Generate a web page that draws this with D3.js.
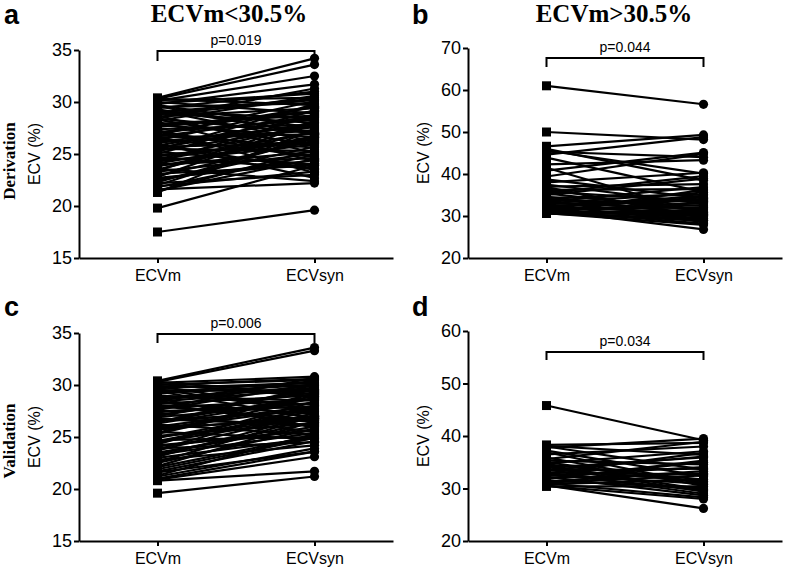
<!DOCTYPE html>
<html><head><meta charset="utf-8">
<script src="https://cdn.jsdelivr.net/npm/d3@7"></script>
<style>
html,body{margin:0;padding:0;background:#fff;}
svg{display:block;}
</style>
</head><body>
<svg id="chart" width="787" height="571"></svg>
<script>
// ---------- DATA ----------
const categories = ["ECVm", "ECVsyn"];
const titles = ["ECVm<30.5%", "ECVm>30.5%"];
const rowLabels = ["Derivation", "Validation"];
const panelLetters = ["a", "b", "c", "d"];
const pValues = ["p=0.019", "p=0.044", "p=0.006", "p=0.034"];
const yLabel = "ECV (%)";

const ticksA = [15, 20, 25, 30, 35];
const ticksB = [20, 30, 40, 50, 60, 70];
const ticksC = [15, 20, 25, 30, 35];
const ticksD = [20, 30, 40, 50, 60];

// Panel a: derivation, ECVm<30.5%
const aECVm  = [30.4, 30.3, 30.2, 30.1, 30.0, 29.8, 29.7, 29.5, 29.4, 29.2, 29.0, 28.9, 28.7, 28.6, 28.4, 28.2, 28.1, 27.9, 27.8, 27.6, 27.4, 27.3, 27.1, 26.9, 26.8, 26.6, 26.5, 26.3, 26.1, 26.0, 25.8, 25.7, 25.5, 25.3, 25.2, 25.0, 24.8, 24.7, 24.5, 24.3, 24.2, 24.0, 23.8, 23.6, 23.5, 23.3, 23.1, 22.9, 22.8, 22.6, 22.4, 22.2, 22.0, 21.8, 21.6, 21.4, 21.3, 19.8, 17.5,
                30.3, 29.9, 29.6, 29.1, 28.8, 28.3, 27.7, 27.2, 26.7, 26.2, 25.9, 25.4, 24.9, 24.4, 23.9, 23.4, 22.7, 22.3, 21.9, 21.5, 28.5, 27.0, 25.6, 24.1, 29.3];
const aECVsyn= [34.2, 33.6, 30.4, 32.5, 28.9, 31.7, 27.5, 29.9, 31.0, 26.2, 30.3, 28.0, 25.1, 29.4, 27.0, 30.6, 24.3, 28.7, 26.6, 29.1, 27.8, 23.2, 28.3, 25.6, 30.1, 26.9, 24.8, 29.6, 27.3, 22.7, 28.5, 26.0, 25.3, 27.6, 24.0, 29.2, 26.4, 23.6, 27.9, 25.9, 28.8, 24.6, 26.7, 22.4, 27.2, 25.0, 23.9, 26.3, 28.1, 24.4, 25.7, 23.0, 26.8, 24.9, 22.2, 25.4, 27.4, 23.9, 19.6,
                29.7, 30.8, 26.9, 28.4, 30.2, 25.8, 29.0, 24.7, 28.6, 27.7, 23.5, 29.8, 26.1, 27.1, 25.2, 28.2, 24.1, 26.5, 23.3, 24.5, 31.3, 29.5, 28.0, 26.6, 27.0];

// Panel b: derivation, ECVm>30.5%
const bECVm  = [61.0, 50.0, 46.6, 46.0, 45.3, 44.6, 43.9, 42.3, 41.5, 39.4, 38.7, 38.0, 37.5, 37.0, 36.6, 36.2, 35.8, 35.4, 35.0, 34.6, 34.3, 34.0, 33.7, 33.4, 33.1, 32.8, 32.5, 32.2, 32.0, 31.8, 31.6, 31.4, 31.2, 31.0, 30.8, 30.7, 30.6, 30.6, 30.7, 30.9, 31.5, 32.3,
                45.6, 40.8, 36.9, 35.5, 34.1, 33.0, 32.0, 31.3, 30.9];
const bECVsyn= [56.6, 48.2, 49.3, 38.5, 44.0, 48.8, 35.7, 43.3, 30.6, 44.8, 34.2, 40.3, 32.9, 37.6, 29.8, 36.4, 33.5, 31.2, 38.9, 30.2, 35.1, 32.4, 29.0, 36.9, 31.7, 33.9, 28.6, 34.8, 30.9, 32.0, 29.5, 26.8, 33.2, 31.0, 30.4, 29.3, 28.9, 31.5, 27.9, 30.0, 32.6, 33.7,
                40.1, 45.1, 29.4, 39.5, 30.5, 35.6, 34.4, 28.2, 36.2];

// Panel c: validation, ECVm<30.5%
const cECVm  = [30.4, 30.3, 30.2, 30.1, 30.0, 29.9, 29.7, 29.5, 29.4, 29.2, 29.0, 28.8, 28.7, 28.5, 28.3, 28.2, 28.0, 27.8, 27.6, 27.5, 27.3, 27.1, 26.9, 26.8, 26.6, 26.4, 26.2, 26.0, 25.9, 25.7, 25.5, 25.3, 25.1, 24.9, 24.7, 24.5, 24.3, 24.1, 23.9, 23.7, 23.5, 23.3, 23.1, 22.8, 22.5, 22.2, 21.9, 21.6, 21.3, 21.0, 20.8, 19.6,
                30.3, 30.0, 29.6, 29.3, 28.9, 28.6, 28.1, 27.7, 27.4, 27.0, 26.7, 26.3, 25.8, 25.4, 25.0, 24.6, 24.2, 23.8, 23.4, 23.0, 22.6, 22.1, 21.7, 21.2, 20.9, 29.8, 28.4, 26.5];
const cECVsyn= [33.6, 33.3, 30.8, 28.9, 30.5, 27.6, 30.2, 29.4, 26.8, 30.0, 28.1, 29.7, 25.9, 30.4, 27.2, 29.0, 26.4, 28.6, 30.1, 27.9, 25.5, 29.3, 28.3, 26.1, 27.5, 29.8, 25.2, 28.0, 26.7, 27.0, 24.8, 28.8, 26.3, 27.7, 25.0, 26.9, 28.4, 25.7, 24.5, 27.3, 26.0, 25.4, 27.1, 24.2, 25.8, 26.5, 24.9, 23.6, 25.3, 23.6, 21.7, 21.2,
                29.1, 30.6, 27.4, 30.3, 28.5, 29.9, 26.6, 30.7, 28.2, 29.5, 26.2, 28.7, 27.8, 29.2, 26.8, 27.5, 25.6, 28.0, 26.4, 24.9, 27.0, 25.1, 24.6, 23.9, 23.1, 30.0, 29.6, 28.9];

// Panel d: validation, ECVm>30.5%
const dECVm  = [45.8, 38.3, 38.1, 37.8, 37.2, 36.5, 35.9, 35.3, 34.8, 34.4, 34.0, 33.7, 33.4, 33.1, 32.9, 32.6, 32.4, 32.2, 32.0, 31.8, 31.5, 31.3, 31.0, 30.8, 30.6, 30.4, 34.1, 33.0, 35.0,
                38.0, 36.9, 35.6, 34.6, 33.5, 32.8, 31.9, 31.1, 30.5];
const dECVsyn= [39.2, 38.7, 36.4, 39.5, 32.3, 38.0, 30.5, 34.6, 37.1, 29.8, 35.9, 31.4, 33.8, 29.0, 36.8, 30.9, 34.1, 28.7, 32.9, 35.3, 30.1, 33.3, 28.3, 31.8, 26.2, 30.4, 29.4, 32.7, 31.1,
                33.6, 30.8, 38.9, 31.7, 36.1, 29.6, 35.0, 32.5, 28.0];

// ---------- LAYOUT ----------
const svg = d3.select("#chart");
const SANS = "'Liberation Sans', Arial, Helvetica, sans-serif";
const SERIF = "'Liberation Serif', 'Times New Roman', serif";

const panels = [
  {m: aECVm, s: aECVsyn, ticks: ticksA, x0: 79,  yb: 258, yt: 50,  p: pValues[0], by: 51,  bd: 10, letter: panelLetters[0], lx: 4,   ly: 24},
  {m: bECVm, s: bECVsyn, ticks: ticksB, x0: 468, yb: 258, yt: 48,  p: pValues[1], by: 58,  bd: 9,  letter: panelLetters[1], lx: 412, ly: 24},
  {m: cECVm, s: cECVsyn, ticks: ticksC, x0: 79,  yb: 541, yt: 333, p: pValues[2], by: 334, bd: 9,  letter: panelLetters[2], lx: 4,   ly: 316},
  {m: dECVm, s: dECVsyn, ticks: ticksD, x0: 468, yb: 541, yt: 331, p: pValues[3], by: 352, bd: 8,  letter: panelLetters[3], lx: 412, ly: 316}
];
const axisW = 314;

panels.forEach((P, i) => {
  const g = svg.append("g");
  const y = d3.scaleLinear().domain(d3.extent(P.ticks)).range([P.yb, P.yt]);
  const x = d3.scalePoint().domain(categories).range([P.x0, P.x0 + axisW]).padding(0.5);

  // y axis
  const ya = g.append("g").attr("transform", `translate(${P.x0},0)`)
    .call(d3.axisLeft(y).tickValues(P.ticks).tickSize(5).tickSizeOuter(0).tickPadding(2).tickFormat(d3.format("d")));
  ya.select(".domain").attr("stroke", "#000").attr("stroke-width", 2);
  ya.selectAll(".tick line").attr("stroke", "#000").attr("stroke-width", 2);
  ya.selectAll(".tick text").attr("font-family", SANS).attr("font-size", 18).attr("fill", "#000");

  // x axis
  const xa = g.append("g").attr("transform", `translate(0,${P.yb})`)
    .call(d3.axisBottom(x).tickSize(5).tickSizeOuter(0).tickPadding(7));
  xa.select(".domain").attr("stroke", "#000").attr("stroke-width", 2);
  xa.selectAll(".tick line").attr("stroke", "#000").attr("stroke-width", 2);
  xa.selectAll(".tick text").attr("font-family", SANS).attr("font-size", 16).attr("fill", "#000");

  // paired lines
  const pairs = P.m.map((v, k) => [v, P.s[k]]);
  g.append("g").selectAll("line").data(pairs).join("line")
    .attr("x1", x(categories[0])).attr("x2", x(categories[1]))
    .attr("y1", d => y(d[0])).attr("y2", d => y(d[1]))
    .attr("stroke", "#000").attr("stroke-width", 2.2);

  // markers
  g.append("g").selectAll("rect").data(P.m).join("rect")
    .attr("x", x(categories[0]) - 4.5).attr("y", d => y(d) - 4.5)
    .attr("width", 9).attr("height", 9).attr("fill", "#000");
  g.append("g").selectAll("circle").data(P.s).join("circle")
    .attr("cx", x(categories[1])).attr("cy", d => y(d)).attr("r", 4.6).attr("fill", "#000");

  // significance bracket
  const bx1 = x(categories[0]), bx2 = x(categories[1]);
  g.append("path")
    .attr("d", `M${bx1},${P.by + P.bd}V${P.by}H${bx2}V${P.by + P.bd}`)
    .attr("fill", "none").attr("stroke", "#000").attr("stroke-width", 2);
  g.append("text").attr("x", (bx1 + bx2) / 2).attr("y", P.by - 6)
    .attr("text-anchor", "middle").attr("font-family", SANS).attr("font-size", 14)
    .text(P.p);

  // y label
  const yc = (P.yb + P.yt) / 2;
  g.append("text")
    .attr("transform", `translate(${P.x0 - 39},${yc}) rotate(-90)`)
    .attr("text-anchor", "middle").attr("font-family", SANS).attr("font-size", 16)
    .text(yLabel);

  // panel letter
  g.append("text").attr("x", P.lx).attr("y", P.ly)
    .attr("font-family", SANS).attr("font-weight", "bold").attr("font-size", 27)
    .text(P.letter);
});

// column titles
[[229, titles[0]], [614, titles[1]]].forEach(([cx, t]) => {
  svg.append("text").attr("x", cx).attr("y", 22).attr("text-anchor", "middle")
    .attr("font-family", SERIF).attr("font-weight", "bold").attr("font-size", 25).text(t);
});

// row labels
[[161, rowLabels[0]], [441, rowLabels[1]]].forEach(([cy, t]) => {
  svg.append("text").attr("transform", `translate(15,${cy}) rotate(-90)`)
    .attr("text-anchor", "middle").attr("font-family", SERIF).attr("font-weight", "bold")
    .attr("font-size", 17).text(t);
});
</script>
</body></html>
